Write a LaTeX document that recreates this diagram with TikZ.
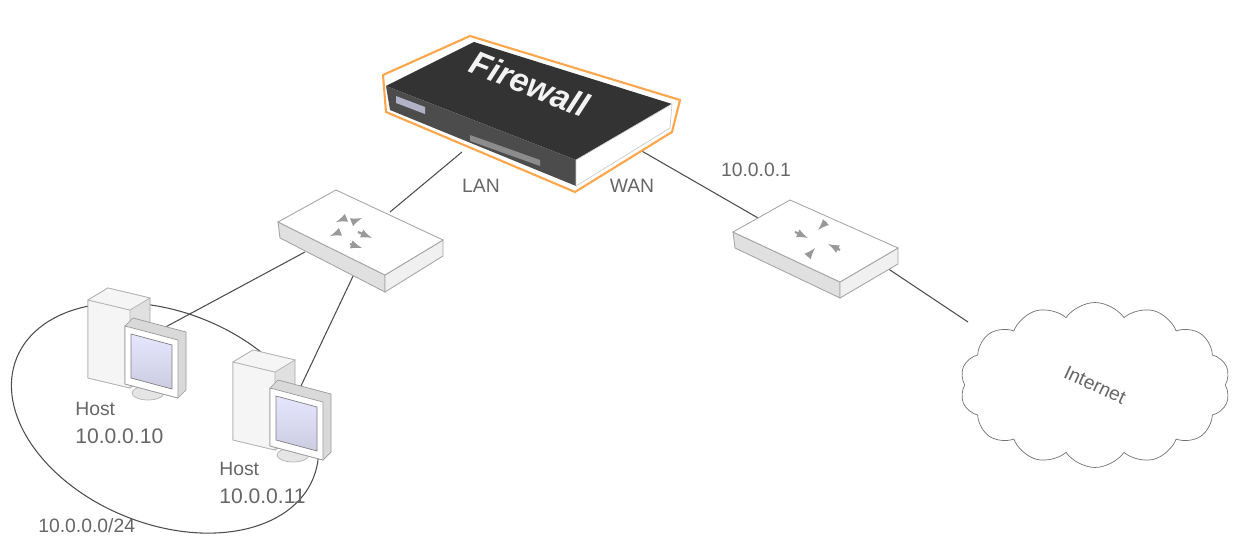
\documentclass[tikz,border=0pt]{standalone}
\usepackage{fontspec}
\setmainfont{Liberation Sans}
\usetikzlibrary{shapes.symbols}
\begin{document}
\begin{tikzpicture}[x=0.02cm,y=-0.02cm,
  lbl/.style={font=\fontsize{11}{13}\selectfont, text=black!60, align=left, inner sep=0pt},
  wire/.style={draw=black!70, line width=0.6pt},
  slabtop/.style={fill=white, draw=black!35, line width=0.5pt},
  slabside/.style={fill=black!12, draw=black!35, line width=0.5pt},
  ico/.style={draw=black!40, fill=black!25, line width=1.2pt, -latex}]
\useasboundingbox (0,0) rectangle (1240,553);
% subnet ellipse
\draw[black!70, line width=0.6pt, rotate around={-22:(165,418)}] (165,418) ellipse [x radius=160, y radius=106];
% wires (behind devices)
\coordinate (fwL) at (462,152);
\coordinate (fwR) at (640,150);
\coordinate (swT) at (390,212);
\coordinate (swL) at (305,252);
\coordinate (swB) at (355,272);
\coordinate (h1) at (160,330);
\coordinate (h2) at (300,388);
\coordinate (rtL) at (765,222);
\coordinate (rtR) at (878,262);
\coordinate (cl) at (968,322);
\draw[wire] (fwL) -- (swT);
\draw[wire] (fwR) -- (rtL);
\draw[wire] (swL) -- (h1);
\draw[wire] (swB) -- (h2);
\draw[wire] (rtR) -- (cl);
% firewall
\draw[orange!70, line width=1.2pt, fill=white] (383,75) -- (470,36) -- (680,100) -- (672,132) -- (575,192) -- (386,112) -- cycle;
\fill[black!80] (386,86) -- (474,42) -- (672,104) -- (576,160) -- cycle;
\fill[black!70] (386,86) -- (576,160) -- (576,186) -- (390,110) -- cycle;
\fill[white, draw=black!20] (576,160) -- (672,104) -- (670,128) -- (576,186) -- cycle;
\fill[blue!25!black!30] (396,96) -- (425,107) -- (425,114) -- (396,103) -- cycle;
\fill[black!45] (470,135) -- (540,160) -- (540,166) -- (470,141) -- cycle;
\node[text=black!5, font=\itshape\bfseries\fontsize{19}{21}\selectfont, rotate=-22] (fw) at (530,84) {Firewall};
% LAN/WAN labels
\node[lbl] (lan) at (481,186) {LAN};
\node[lbl] (wan) at (632,186) {WAN};
\node[lbl] (ip1) at (756,170) {10.0.0.1};
% switch
\draw[slabside] (278,222) -- (385,275) -- (385,292) -- (280,238) -- cycle;
\draw[slabside, fill=black!6] (385,275) -- (443,240) -- (443,256) -- (385,292) -- cycle;
\draw[slabtop] (278,222) -- (336,190) -- (443,240) -- (385,275) -- cycle;
\node (sw) at (358,233) {};
\draw[ico] (346,218) -- (336,222); \draw[ico] (352,222) -- (362,218);
\draw[ico] (340,232) -- (330,236); \draw[ico] (358,232) -- (372,238);
\draw[ico] (350,244) -- (362,248);
% router
\draw[slabside] (733,232) -- (840,282) -- (840,298) -- (735,248) -- cycle;
\draw[slabside, fill=black!6] (840,282) -- (898,248) -- (898,264) -- (840,298) -- cycle;
\draw[slabtop] (733,232) -- (790,200) -- (898,248) -- (840,282) -- cycle;
\node (rt) at (815,242) {};
\draw[ico] (795,232) -- (808,238); \draw[ico] (826,222) -- (818,230);
\draw[ico] (808,256) -- (815,248); \draw[ico] (840,250) -- (828,244);
% cloud
\node[cloud, cloud puffs=14, cloud puff arc=110, aspect=1.6, draw=black!55, fill=white, minimum width=5.4cm, minimum height=3.3cm] (net) at (1095,385) {};
\node[lbl, rotate=-25] at (net.center) {Internet};
% hosts
\foreach \n/\x/\y in {h1pc/88/288, h2pc/233/350}{
  \begin{scope}[shift={(\x,\y)}]
    \draw[fill=black!12, draw=black!35] (0,12) -- (20,0) -- (62,10) -- (62,86) -- (42,100) -- (0,90) -- cycle;
    \draw[fill=black!4, draw=black!30] (0,12) -- (42,22) -- (42,100) -- (0,90) -- cycle;
    \draw[fill=black!4, draw=black!30] (0,12) -- (20,0) -- (62,10) -- (42,22) -- cycle;
    \draw[fill=black!10, draw=black!30] (60,105) ellipse [x radius=16, y radius=7];
    \draw[fill=black!15, draw=black!40] (37,38) -- (45,30) -- (98,44) -- (98,102) -- (90,110) -- (37,96) -- cycle;
    \draw[fill=white, draw=black!40] (37,38) -- (90,52) -- (90,110) -- (37,96) -- cycle;
    \shade[top color=blue!10, bottom color=blue!40!black!20, draw=black!50] (43,46) -- (84,57) -- (84,101) -- (43,90) -- cycle;
  \end{scope}}
\node[lbl, anchor=north west] (l1) at (75,402) {Host\\[3pt]\fontsize{12}{14}\selectfont 10.0.0.10};
\node[lbl, anchor=north west] (l2) at (219,462) {Host\\[3pt]\fontsize{12}{14}\selectfont 10.0.0.11};
\node[lbl, anchor=north west] (sub) at (38,518) {10.0.0.0/24};
\end{tikzpicture}
\end{document}
